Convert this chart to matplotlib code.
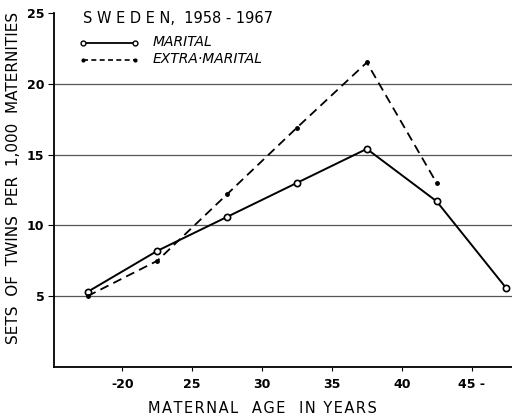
import numpy as np
import matplotlib.pyplot as plt

# age groups (midpoints) and rates per 1,000 maternities
age = [17.5, 22.5, 27.5, 32.5, 37.5, 42.5, 47.5]
marital = [5.3, 8.2, 10.6, 13.0, 15.4, 11.7, 5.55]
extra_age = [17.5, 22.5, 27.5, 32.5, 37.5, 42.5]
extra_marital = [5.0, 7.5, 12.2, 16.9, 21.5, 13.0]

xticks = [20, 25, 30, 35, 40, 45]
xticklabels = ["-20", "25", "30", "35", "40", "45 -"]
yticks = [5, 10, 15, 20, 25]

plt.rcParams['font.family'] = ['DejaVu Sans']


def spaced(s, sep="\u200a"):
    # letter-spaced text like the old lettering stencils
    return sep.join(s)


fig = plt.figure(figsize=(5.12, 4.17), dpi=100)
ax = fig.add_axes([0.1055, 0.12, 0.8945, 0.849])

for y in [5, 10, 15, 20]:
    ax.axhline(y, color="#555555", lw=0.9, zorder=1)

ax.plot(age, marital, "-", color="black", lw=1.4, marker="o", ms=4.5,
        mfc="white", mec="black", mew=1.2, zorder=3, clip_on=False)
ax.plot(extra_age, extra_marital, "--", color="black", lw=1.3, dashes=(5, 3),
        marker="o", ms=2.5, mfc="black", zorder=3)

ax.set_xlim(15.1, 47.9)
ax.set_ylim(0, 25)
ax.set_xticks(xticks)
ax.set_xticklabels(xticklabels, fontsize=9, fontweight="bold")
ax.set_yticks(yticks)
ax.set_yticklabels([str(v) for v in yticks], fontsize=9, fontweight="bold")
ax.tick_params(axis="x", direction="out", length=3, pad=5)
ax.tick_params(axis="y", direction="out", length=4, pad=3)

ax.spines["top"].set_visible(False)
ax.spines["right"].set_visible(False)
ax.spines["left"].set_linewidth(1.3)
ax.spines["bottom"].set_linewidth(1.3)

ax.set_xlabel(spaced("MATERNAL  AGE  IN YEARS"), fontsize=10.5)
ax.xaxis.set_label_coords(0.454, -0.095)
ax.set_ylabel("SETS  OF  TWINS  PER  1,000  MATERNITIES", fontsize=11)
ax.yaxis.set_label_coords(-0.072, 0.534)

# title and hand-drawn style legend
ax.text(0.063, 0.985, "S W E D E N,  1958 - 1967", transform=ax.transAxes,
        fontsize=10.5, va="center", ha="left")
ax.plot([0.063, 0.177], [0.915, 0.915], "-", transform=ax.transAxes, color="black",
        lw=1.3, marker="o", ms=3.5, mfc="white", mew=1)
ax.plot([0.063, 0.177], [0.867, 0.867], "--", transform=ax.transAxes, color="black",
        lw=1.2, dashes=(3, 2), marker="o", ms=2, mfc="black")
ax.text(0.216, 0.917, "MARITAL", transform=ax.transAxes, fontsize=10,
        style="italic", va="center")
ax.text(0.216, 0.869, "EXTRA\u00b7MARITAL", transform=ax.transAxes, fontsize=10,
        style="italic", va="center")

fig.savefig("out.png", dpi=100)
